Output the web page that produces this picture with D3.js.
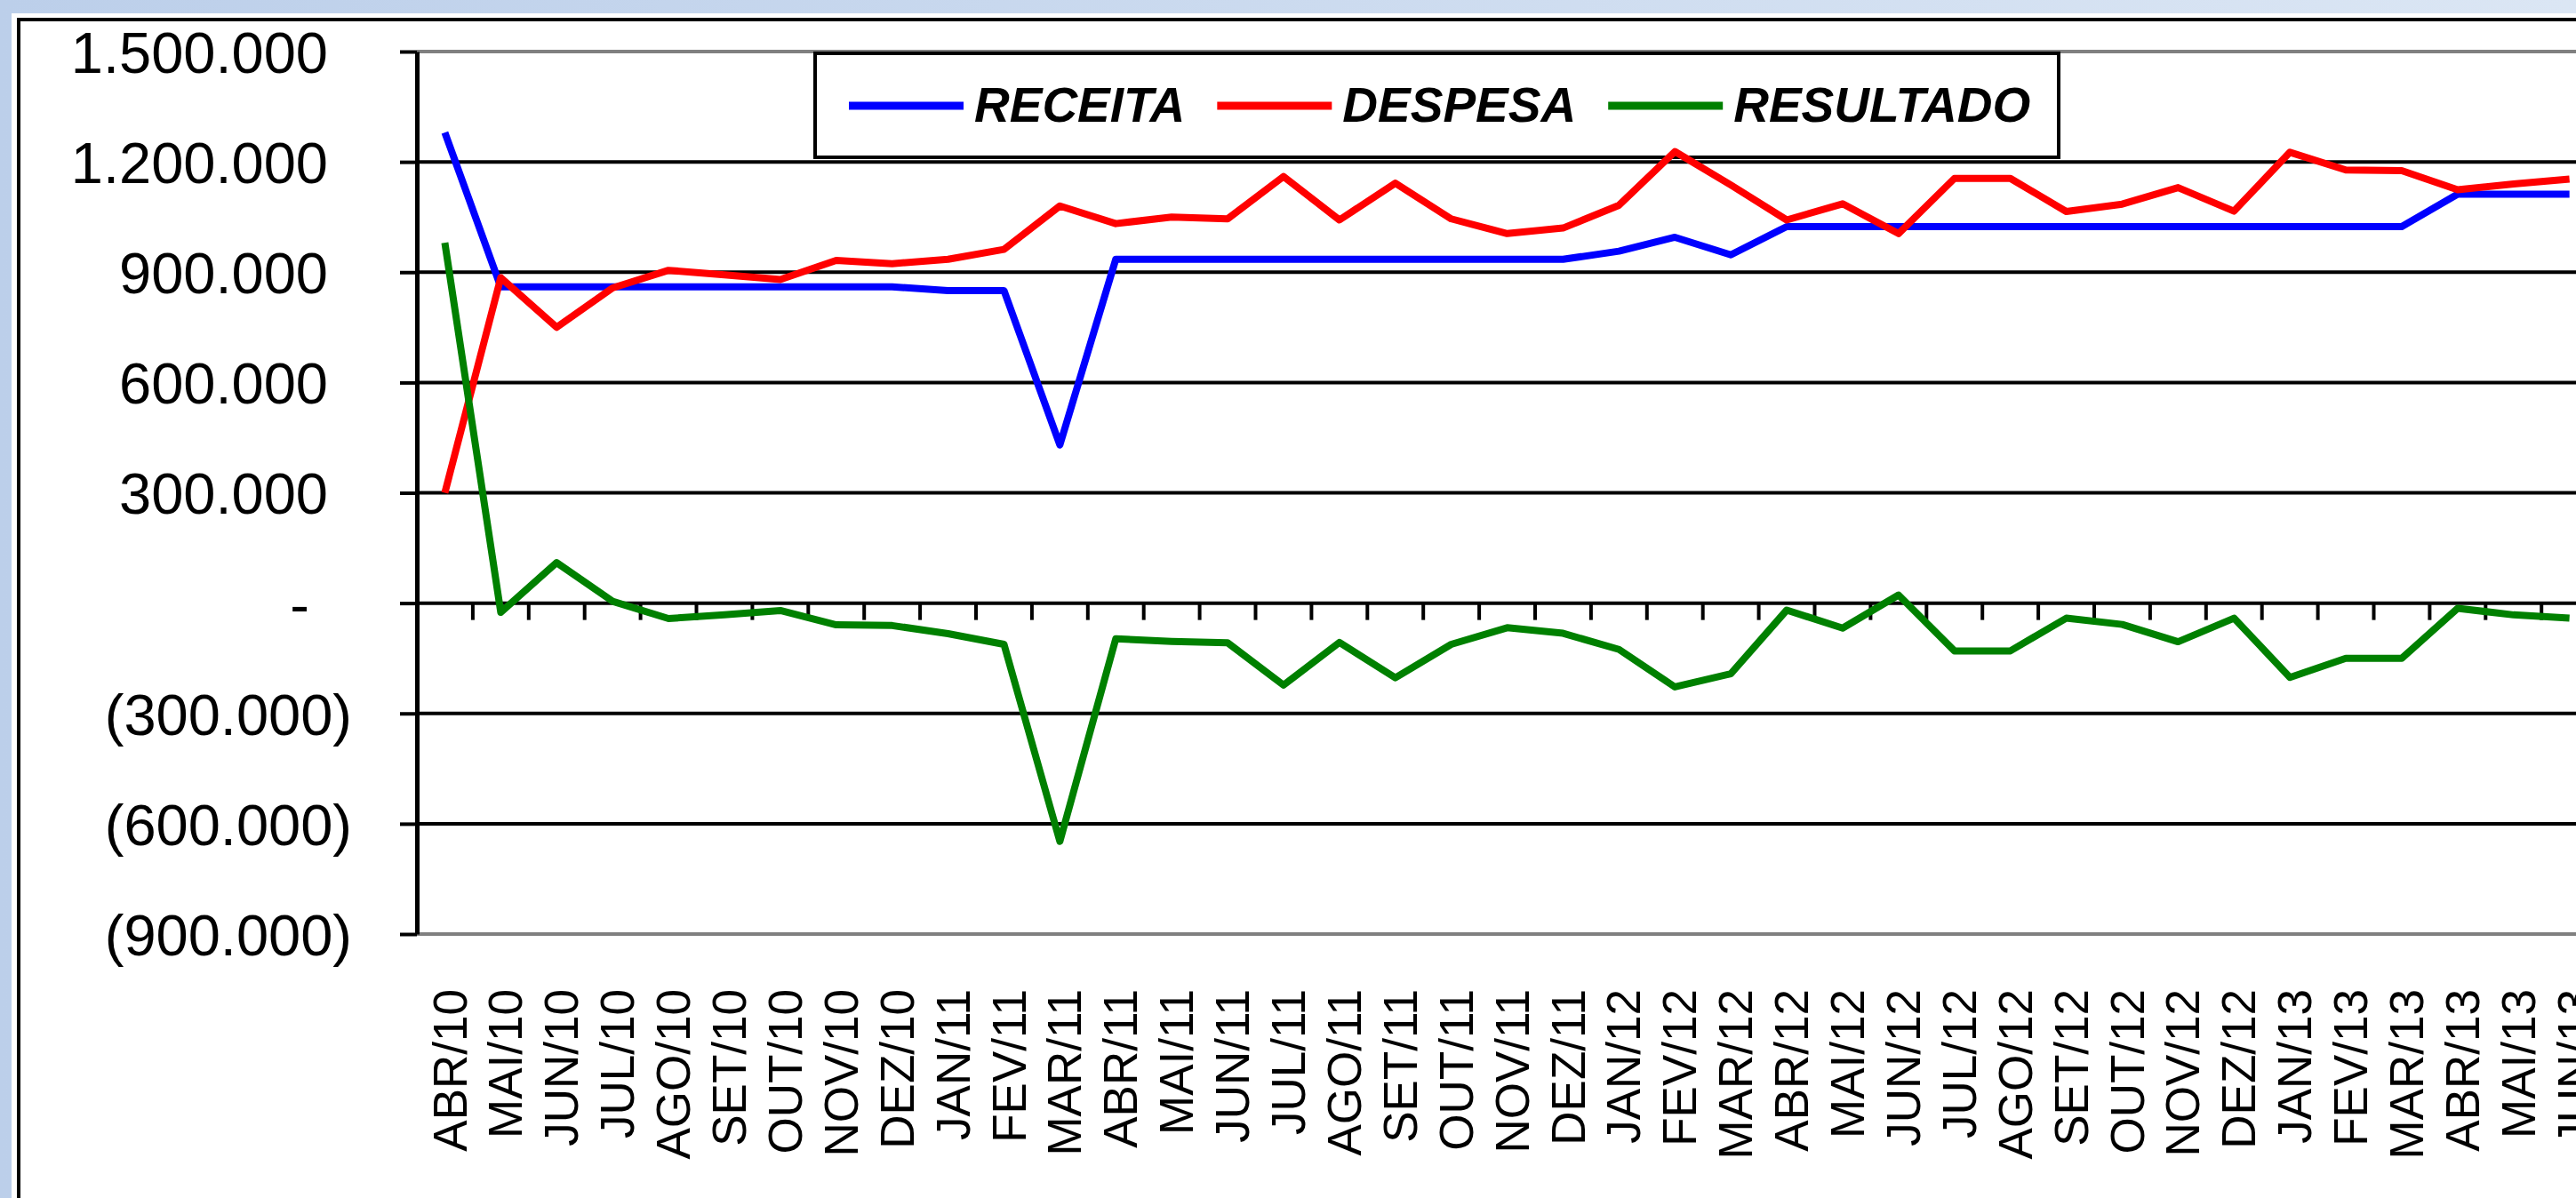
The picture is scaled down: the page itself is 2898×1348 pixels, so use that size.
<!DOCTYPE html>
<html>
<head>
<meta charset="utf-8">
<script src="https://cdnjs.cloudflare.com/ajax/libs/d3/7.8.5/d3.min.js"></script>
<style>
  body { margin: 0; background: #fff; }
  svg { display: block; }
  text { font-family: "Liberation Sans", Arial, sans-serif; fill: #000; }
</style>
</head>
<body>
<svg width="2898" height="1348"></svg>
<script>
// data
const months = [
  "ABR/10", "MAI/10", "JUN/10", "JUL/10", "AGO/10", "SET/10", "OUT/10", "NOV/10", "DEZ/10",
  "JAN/11", "FEV/11", "MAR/11", "ABR/11", "MAI/11", "JUN/11", "JUL/11", "AGO/11", "SET/11",
  "OUT/11", "NOV/11", "DEZ/11", "JAN/12", "FEV/12", "MAR/12", "ABR/12", "MAI/12", "JUN/12",
  "JUL/12", "AGO/12", "SET/12", "OUT/12", "NOV/12", "DEZ/12", "JAN/13", "FEV/13", "MAR/13",
  "ABR/13", "MAI/13", "JUN/13"
];
const receita = [
  1280000, 860000, 860000, 860000, 860000, 860000, 860000, 860000, 860000, 850000,
  850000, 430000, 935000, 935000, 935000, 935000, 935000, 935000, 935000, 935000,
  935000, 957000, 995000, 947000, 1024000, 1024000, 1024000, 1024000, 1024000, 1024000,
  1024000, 1024000, 1024000, 1024000, 1024000, 1024000, 1112000, 1112000, 1112000
];
const despesa = [
  300000, 885000, 750000, 857000, 905000, 893000, 880000, 932000, 923000, 935000,
  962000, 1080000, 1032000, 1050000, 1045000, 1160000, 1042000, 1142000, 1045000, 1005000,
  1020000, 1082000, 1228000, 1137000, 1042000, 1086000, 1005000, 1155000, 1155000, 1065000,
  1085000, 1130000, 1066000, 1226000, 1178000, 1176000, 1124000, 1140000, 1153000
];
const resultado = [
  980000, -25000, 110000, 5000, -42000, -32000, -20000, -59000, -61000, -83000,
  -112000, -648000, -97000, -104000, -108000, -223000, -107000, -203000, -112000, -67000,
  -82000, -126000, -228000, -192000, -19000, -68000, 22000, -130000, -130000, -41000,
  -58000, -105000, -41000, -202000, -150000, -150000, -14000, -32000, -41000
];
const yTicks = [1500000, 1200000, 900000, 600000, 300000, 0, -300000, -600000, -900000];
const yLabels = ["1.500.000", "1.200.000", "900.000", "600.000", "300.000", "-", "(300.000)", "(600.000)", "(900.000)"];
const seriesNames = ["RECEITA", "DESPESA", "RESULTADO"];
const seriesColors = ["#0000ff", "#ff0000", "#008000"];

var svg = d3.select("svg");

var plotLeft = 469, plotTop = 58, plotBottom = 1051, step = 62.9;
var plotRight = plotLeft + step * months.length;

// background frame
var grad = svg.append("defs").append("linearGradient").attr("id", "bg");
grad.append("stop").attr("offset", "0%").attr("stop-color", "#bccfea");
grad.append("stop").attr("offset", "100%").attr("stop-color", "#dbe6f4");
svg.append("rect").attr("width", 2898).attr("height", 1348).attr("fill", "url(#bg)");
svg.append("rect").attr("x", 13).attr("y", 15).attr("width", 3000).attr("height", 2000).attr("fill", "#fff");
svg.append("rect")
  .attr("x", 21).attr("y", 22)
  .attr("width", 3000).attr("height", 2000)
  .attr("fill", "none").attr("stroke", "#000").attr("stroke-width", 4);

var x = d3.scaleBand().domain(months).range([plotLeft, plotRight]).padding(0);
var y = d3.scaleLinear().domain([-900000, 1500000]).range([plotBottom, plotTop]);
var cx = (d) => x(d) + x.bandwidth() / 2;

// gridlines
svg.append("g")
  .selectAll("line")
  .data(yTicks)
  .join("line")
  .attr("x1", plotLeft).attr("x2", plotRight)
  .attr("y1", (d) => y(d)).attr("y2", (d) => y(d))
  .attr("stroke", (d, i) => (i === 0 || i === yTicks.length - 1 ? "#808080" : "#000"))
  .attr("stroke-width", 4);

// y axis
var yAxis = svg.append("g")
  .attr("transform", `translate(${plotLeft},0)`)
  .call(
    d3.axisLeft(y)
      .tickValues(yTicks)
      .tickSize(19)
      .tickSizeOuter(0)
      .tickFormat((d, i) => yLabels[i])
  );
yAxis.select(".domain").attr("stroke", "#000").attr("stroke-width", 5);
yAxis.selectAll(".tick line").attr("stroke", "#000").attr("stroke-width", 4);
yAxis.selectAll(".tick text")
  .attr("font-family", null)
  .style("font-size", "65px")
  .attr("dy", "0.36em")
  .attr("x", function () {
    var t = d3.select(this).text();
    if (t === "-") return -121;
    if (t[0] === "(") return -73;
    return -100;
  });

// x axis on zero line with ticks between categories
var y0 = y(0);
svg.append("g")
  .selectAll("line")
  .data(months.slice(1))
  .join("line")
  .attr("x1", (d) => x(d)).attr("x2", (d) => x(d))
  .attr("y1", y0).attr("y2", y0 + 19)
  .attr("stroke", "#000")
  .attr("stroke-width", 4);

svg.append("g")
  .selectAll("text")
  .data(months)
  .join("text")
  .attr("transform", (d) => `translate(${cx(d) + 5},1113) rotate(-90)`)
  .attr("text-anchor", "end")
  .attr("dy", "0.36em")
  .style("font-size", "53px")
  .text((d) => d);

// legend
var legend = svg.append("g").attr("class", "legend");
legend.append("rect")
  .attr("x", 917).attr("y", 60)
  .attr("width", 1399).attr("height", 117)
  .attr("fill", "#fff")
  .attr("stroke", "#000")
  .attr("stroke-width", 4);

var lx = 955;
seriesNames.forEach(function (name, i) {
  legend.append("line")
    .attr("x1", lx).attr("x2", lx + 129)
    .attr("y1", 119).attr("y2", 119)
    .attr("stroke", seriesColors[i])
    .attr("stroke-width", 9);
  var t = legend.append("text")
    .attr("x", lx + 141)
    .attr("y", 137)
    .style("font-size", "55px")
    .style("font-weight", "bold")
    .style("font-style", "italic")
    .text(name);
  lx = lx + 141 + t.node().getComputedTextLength() + 36;
});

// series lines
var line = d3.line()
  .x((d, i) => cx(months[i]))
  .y((d) => y(d));

svg.append("g")
  .selectAll("path")
  .data([receita, despesa, resultado])
  .join("path")
  .attr("d", line)
  .attr("fill", "none")
  .attr("stroke", (d, i) => seriesColors[i])
  .attr("stroke-width", 8)
  .attr("stroke-linejoin", "round");
</script>
</body>
</html>
